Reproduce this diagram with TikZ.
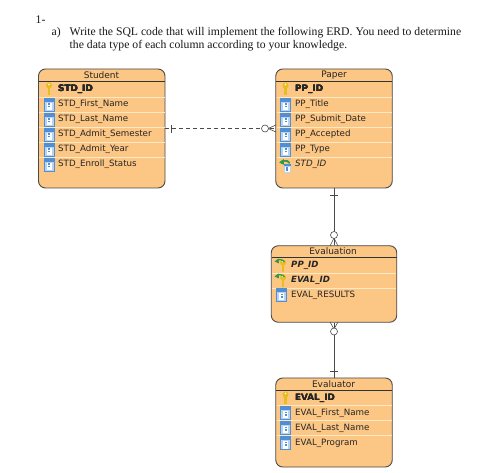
\documentclass[tikz,border=0pt]{standalone}
\usepackage{fontspec}
\setmainfont{Liberation Serif}
\newfontfamily\erfont{DejaVu Sans}
\definecolor{entfill}{HTML}{FCC684}
\definecolor{entline}{HTML}{4A4A48}
\definecolor{sepline}{HTML}{FFE9C4}
\definecolor{colblue}{HTML}{4F8FD6}
\definecolor{keyyellow}{HTML}{E8BE1E}
\definecolor{fkgreen}{HTML}{2E9A4A}
\tikzset{
  x=1pt,y=-1pt,
  entity/.style={draw=entline,line width=0.9pt,fill=entfill,rounded corners=7pt,inner sep=0pt},
  enttitle/.style={font=\erfont\fontsize{9}{10}\selectfont,text=black!85,inner sep=0pt},
  attr/.style={font=\erfont\fontsize{8.7}{10}\selectfont,text=black!85,anchor=west,inner sep=0pt},
  pkattr/.style={attr,font=\erfont\bfseries\fontsize{8.8}{10}\selectfont},
  fkattr/.style={attr,font=\erfont\itshape\fontsize{8.7}{10}\selectfont},
  pfattr/.style={attr,font=\erfont\bfseries\itshape\fontsize{8.6}{10}\selectfont},
  para/.style={font=\fontsize{11.7}{13}\selectfont,anchor=west,inner sep=0pt,text=black!90},
  headrule/.style={draw=black!80,line width=0.7pt},
  rowrule/.style={draw=sepline,line width=0.7pt},
  link/.style={draw=entline,line width=0.8pt},
  crow/.style={draw=entline,line width=0.6pt},
  ring/.style={circle,draw=entline,line width=0.6pt,fill=white,minimum size=7pt,inner sep=0pt},
}
% icons, drawn at their centre point
\newcommand{\colicon}[2]{%
  \fill[colblue!40] (#1-5,#2-6.5) rectangle (#1+5,#2+6.5);
  \fill[colblue] (#1-5,#2-6.5) rectangle (#1+5,#2-2.5);
  \draw[colblue,line width=0.5pt] (#1-5,#2-6.5) rectangle (#1+5,#2+6.5);
  \fill[white] (#1-2.5,#2-1.5) rectangle (#1+2.5,#2+5.5);
  \fill[colblue] (#1-1,#2-1) rectangle (#1+1,#2+0.5);
  \fill[colblue] (#1-1,#2+1.5) rectangle (#1+1,#2+3);
}
\newcommand{\keyicon}[2]{%
  \fill[keyyellow] (#1-1.2,#2-2) rectangle (#1+1.2,#2+6.5);
  \fill[keyyellow] (#1,#2-3.5) circle (3pt);
  \fill[white] (#1,#2-4.5) circle (0.8pt);
}
\newcommand{\fkarrow}[2]{%
  \draw[fkgreen,line width=1.3pt] (#1+3.5,#2-3) .. controls (#1+2,#2-5.5) and (#1-2,#2-6) .. (#1-4,#2-4.5);
  \fill[fkgreen] (#1-6.5,#2-3.5) -- (#1-2.5,#2-6.5) -- (#1-2,#2-1.5) -- cycle;
}
\newcommand{\fkicon}[2]{%
  \fill[colblue!40] (#1-2.5,#2-2) rectangle (#1+5,#2+7);
  \fill[colblue] (#1-2.5,#2-2) rectangle (#1+5,#2);
  \fill[white] (#1-1,#2+1) rectangle (#1+3.5,#2+6);
  \fill[colblue] (#1+0.3,#2+1.5) rectangle (#1+2.2,#2+5.5);
  \fkarrow{#1}{#2}
}
\newcommand{\pficon}[2]{%
  \keyicon{#1+2}{#2+1}
  \fkarrow{#1}{#2}
}
\begin{document}
\begin{tikzpicture}
\useasboundingbox (0,0) rectangle (496,473);
\fill[white] (0,0) rectangle (496,473);
% question text
\node[para] (qnum) at (35.5,20) {1-};
\node[para] (qa) at (51.5,32.5) {a)};
\node[para] (qline1) at (69.5,32.5) {Write the SQL code that will implement the following ERD. You need to determine};
\node[para] (qline2) at (69.5,46) {the data type of each column according to your knowledge.};
% entities
\node[entity,minimum width=126.5pt,minimum height=119pt] (student) at (101.75,128.5) {};
\node[entity,minimum width=116.5pt,minimum height=119pt] (paper) at (334,128.5) {};
\node[entity,minimum width=125.5pt,minimum height=76.5pt] (evaluation) at (334,284) {};
\node[entity,minimum width=116.5pt,minimum height=89pt] (evaluator) at (334,422.5) {};
% Student
\draw[headrule] (38.5,81) -- (165,81);
\foreach \yy in {97,112,127,142,157} \draw[rowrule] (39,\yy) -- (164.5,\yy);
\node[enttitle] (studentT) at (101.5,75) {Student};
\keyicon{49}{89}
\foreach \yy in {104.5,119.5,134.5,149.5,164.5} \colicon{49}{\yy}
\node[pkattr] (s1) at (58,89) {STD\_ID};
\node[attr] (s2) at (58,104) {STD\_First\_Name};
\node[attr] (s3) at (58,119) {STD\_Last\_Name};
\node[attr] (s4) at (58,134) {STD\_Admit\_Semester};
\node[attr] (s5) at (58,149) {STD\_Admit\_Year};
\node[attr] (s6) at (58,164) {STD\_Enroll\_Status};
% Paper
\draw[headrule] (276,81) -- (392,81);
\foreach \yy in {97,112,127,142,157} \draw[rowrule] (276.5,\yy) -- (391.5,\yy);
\node[enttitle] (paperT) at (334,75) {Paper};
\keyicon{285.5}{89}
\foreach \yy in {104.5,119.5,134.5,149.5} \colicon{285.5}{\yy}
\fkicon{286}{166}
\node[pkattr] (p1) at (295,89) {PP\_ID};
\node[attr] (p2) at (295,104) {PP\_Title};
\node[attr] (p3) at (295,119) {PP\_Submit\_Date};
\node[attr] (p4) at (295,134) {PP\_Accepted};
\node[attr] (p5) at (295,149) {PP\_Type};
\node[fkattr] (p6) at (295,164) {STD\_ID};
% Evaluation
\draw[headrule] (271.5,257.5) -- (396.5,257.5);
\foreach \yy in {273,288} \draw[rowrule] (272,\yy) -- (396,\yy);
\node[enttitle] (evaluationT) at (333,251.5) {Evaluation};
\pficon{281}{265}
\pficon{281}{280}
\colicon{281.5}{295}
\node[pfattr] (e1) at (291,265) {PP\_ID};
\node[pfattr] (e2) at (291,280) {EVAL\_ID};
\node[attr] (e3) at (291,295) {EVAL\_RESULTS};
% Evaluator
\draw[headrule] (276,390) -- (392,390);
\foreach \yy in {405,420,435} \draw[rowrule] (276.5,\yy) -- (391.5,\yy);
\node[enttitle] (evaluatorT) at (333.5,384) {Evaluator};
\keyicon{285.5}{398}
\foreach \yy in {413,428,443} \colicon{285.5}{\yy}
\node[pkattr] (r1) at (295,398) {EVAL\_ID};
\node[attr] (r2) at (295,413) {EVAL\_First\_Name};
\node[attr] (r3) at (295,428) {EVAL\_Last\_Name};
\node[attr] (r4) at (295,443) {EVAL\_Program};
% connectors
\draw[link,dashed,dash pattern=on 4pt off 3pt] (student) -- (paper);
\draw[link,line width=1pt] (paper) -- (evaluation);
\draw[link] (evaluation) -- (evaluator);
% Student end: one
\draw[crow] (171.5,125) -- (171.5,133);
% Paper end: zero or many
\draw[crow] (268,128.5) -- (276,125) (268,128.5) -- (276,132);
\node[ring] (ringA) at (265,128.5) {};
% Paper-Evaluation
\draw[crow] (330,195) -- (338,195);
\draw[crow] (334,238) -- (330,246) (334,238) -- (338,246);
\node[ring] (ringB) at (334,235) {};
% Evaluation-Evaluator
\draw[crow] (334,329) -- (330,322) (334,329) -- (338,322);
\node[ring] (ringC) at (334,331.5) {};
\draw[crow] (330,371) -- (338,371);
\end{tikzpicture}
\end{document}
